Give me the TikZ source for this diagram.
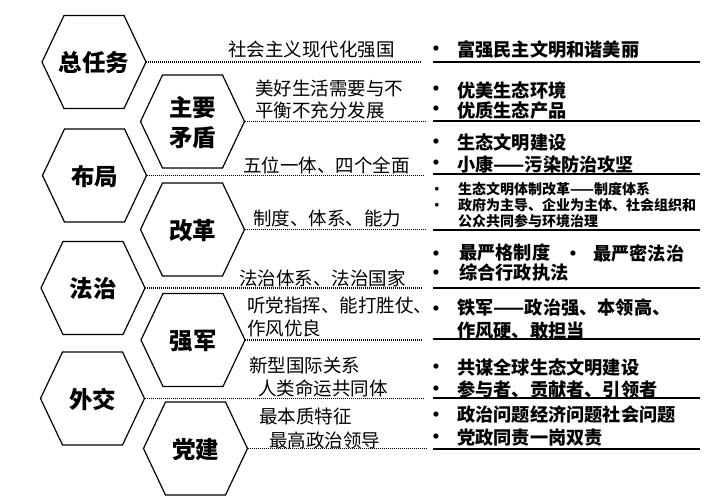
\documentclass[tikz,border=0pt]{standalone}
\usepackage{fontspec}
\setmainfont{Noto Sans CJK SC}
\newfontfamily\bulfont{Liberation Sans}
\begin{document}
\begin{tikzpicture}[x=1pt,y=-1pt,
  hexline/.style={draw=black, line width=1.2pt, line join=miter},
  hexlabel/.style={font=\bfseries\fontsize{23.5}{30}\selectfont, align=center, inner sep=0},
  midtxt/.style={font=\fontsize{18.5}{22}\selectfont, anchor=west, inner sep=0},
  boldtxt/.style={font=\bfseries\fontsize{18.2}{22}\selectfont, anchor=west, inner sep=0},
  smalltxt/.style={font=\bfseries\fontsize{14}{17}\selectfont, anchor=west, inner sep=0},
  bul/.style={font=\bulfont\bfseries\fontsize{18}{20}\selectfont, inner sep=0},
  sbul/.style={font=\bulfont\bfseries\fontsize{13}{15}\selectfont, inner sep=0},
  dotline/.style={line width=1.1pt, dash pattern=on 1pt off 1pt},
  ruleline/.style={line width=1.2pt},
  hexa/.pic={
    \draw[hexline] (-52,0) -- (-30,-46.5) -- (30,-46.5) -- (52,0) -- (30,46.5) -- (-30,46.5) -- cycle;
    \coordinate (-r) at (52,0);
    \node[hexlabel] (-t) at (0,1) {#1};
  }]
\useasboundingbox (0,0) rectangle (719,503);
\fill[white] (0,0) rectangle (719,503);

% hexagons
\pic (h1) at (94,62) {hexa=总任务};
\pic (h2) at (192.5,121.5) {hexa={主要\\矛盾}};
\pic (h3) at (94.5,175.5) {hexa=布局};
\pic (h4) at (192.5,229.5) {hexa=改革};
\pic (h5) at (93,288) {hexa=法治};
\pic (h6) at (193,340) {hexa=强军};
\pic (h7) at (92.5,398.5) {hexa=外交};
\pic (h8) at (195.5,448.5) {hexa=党建};

% dotted connectors
\coordinate (e1) at (422,62);
\coordinate (e2) at (425,121.5);
\coordinate (e3) at (423,175.5);
\coordinate (e4) at (425,229.5);
\coordinate (e5) at (423,288);
\coordinate (e6) at (423,340);
\coordinate (e7) at (423,398.5);
\coordinate (e8) at (426,448.5);
\foreach \i in {1,...,8} {\draw[dotline] (h\i-r) -- (e\i);}

% solid rules
\foreach \y in {62,121,174,230,288,339,398,449} {\draw[ruleline] (433,\y) -- (700,\y);}

% middle texts
\node[midtxt] (m1) at (228,50) {社会主义现代化强国};
\node[midtxt] (m2a) at (255,88) {美好生活需要与不};
\node[midtxt] (m2b) at (255,110) {平衡不充分发展};
\node[midtxt] (m3) at (243,165) {五位一体、四个全面};
\node[midtxt] (m4) at (253,218) {制度、体系、能力};
\node[midtxt] (m5) at (239,278) {法治体系、法治国家};
\node[midtxt] (m6a) at (247,305) {听党指挥、能打胜仗、};
\node[midtxt] (m6b) at (247,328) {作风优良};
\node[midtxt] (m7a) at (249,365) {新型国际关系};
\node[midtxt] (m7b) at (258,388) {人类命运共同体};
\node[midtxt] (m8a) at (259,416) {最本质特征};
\node[midtxt] (m8b) at (269,440) {最高政治领导};

% bullets
\foreach \y [count=\k] in {50,90,110,143,164,255,274,310,368,390,416,438} {\node[bul] (b\k) at (436,\y) {•};}
\node[bul] (b13) at (573,255) {•};
\node[sbul] (sb1) at (437,190) {•};
\node[sbul] (sb2) at (437,206) {•};

% right texts
\node[boldtxt] (r1) at (457,50) {富强民主文明和谐美丽};
\node[boldtxt] (r2a) at (457,90) {优美生态环境};
\node[boldtxt] (r2b) at (457,111) {优质生态产品};
\node[boldtxt] (r3a) at (457,143) {生态文明建设};
\node[boldtxt] (r3b) at (457,165) {小康——污染防治攻坚};
\node[smalltxt] (r4a) at (458,189) {生态文明体制改革——制度体系};
\node[smalltxt] (r4b) at (458,205) {政府为主导、企业为主体、社会组织和};
\node[smalltxt] (r4c) at (458,221) {公众共同参与环境治理};
\node[boldtxt] (r5a) at (459,253) {最严格制度};
\node[boldtxt] (r5c) at (593,253) {最严密法治};
\node[boldtxt] (r5b) at (459,273) {综合行政执法};
\node[boldtxt] (r6a) at (457,308) {铁军——政治强、本领高、};
\node[boldtxt] (r6b) at (457,331) {作风硬、敢担当};
\node[boldtxt] (r7a) at (457,368) {共谋全球生态文明建设};
\node[boldtxt] (r7b) at (457,390) {参与者、贡献者、引领者};
\node[boldtxt] (r8a) at (457,415) {政治问题经济问题社会问题};
\node[boldtxt] (r8b) at (457,438) {党政同责一岗双责};
\end{tikzpicture}
\end{document}
